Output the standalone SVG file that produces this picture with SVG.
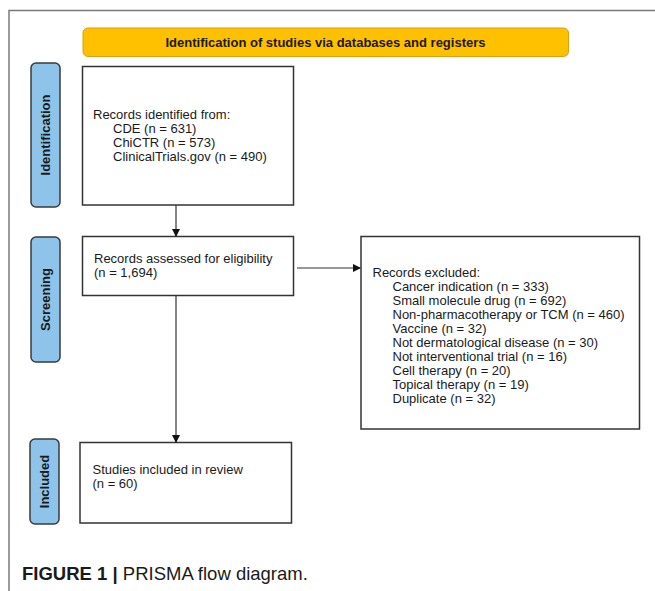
<svg xmlns="http://www.w3.org/2000/svg" width="655" height="591" viewBox="0 0 655 591">
<style>
.t{font-family:"Liberation Sans",Arial,sans-serif;font-size:13px;fill:#1a1a1a}
.b{font-family:"Liberation Sans",Arial,sans-serif;font-size:13px;font-weight:bold;fill:#1a1a1a}
.box{fill:#fff;stroke:#333;stroke-width:1.5}
.lab{fill:#8ec4ea;stroke:#3a3a3a;stroke-width:1.5}
.con{stroke:#333;stroke-width:1.2;fill:none}
</style>
<defs>
<marker id="ah" markerWidth="8" markerHeight="8" refX="7" refY="4" orient="auto" markerUnits="userSpaceOnUse">
<path d="M0,0 L8,4 L0,8 Z" fill="#111"/>
</marker>
</defs>
<rect width="655" height="591" fill="#fff"/>
<path d="M9,591 V10.5 H655" fill="none" stroke="#7a7a7a" stroke-width="1.5"/>
<g id="banner">
<rect x="83" y="28" width="485.5" height="28.5" rx="5" fill="#ffc000" stroke="#d9a011" stroke-width="1"/>
<text class="b" x="325.5" y="46.5" text-anchor="middle">Identification of studies via databases and registers</text>
</g>
<g id="label-identification">
<rect class="lab" x="31" y="63" width="29" height="144" rx="5"/>
<text class="b" transform="translate(50,135) rotate(-90)" text-anchor="middle">Identification</text>
</g>
<g id="label-screening">
<rect class="lab" x="31" y="237" width="29" height="125" rx="5"/>
<text class="b" transform="translate(50,299.5) rotate(-90)" text-anchor="middle">Screening</text>
</g>
<g id="label-included">
<rect class="lab" x="30" y="439" width="29" height="85" rx="5"/>
<text class="b" transform="translate(49,481.5) rotate(-90)" text-anchor="middle">Included</text>
</g>
<g id="node-identified">
<rect class="box" x="82.5" y="66.5" width="211" height="138.5"/>
<text class="t" x="93" y="119">Records identified from:</text>
<text class="t" x="113" y="133">CDE (n = 631)</text>
<text class="t" x="113" y="147">ChiCTR (n = 573)</text>
<text class="t" x="113" y="161">ClinicalTrials.gov (n = 490)</text>
</g>
<g id="node-screened">
<rect class="box" x="82.5" y="236.5" width="211" height="59"/>
<text class="t" x="94" y="263">Records assessed for eligibility</text>
<text class="t" x="94" y="277">(n = 1,694)</text>
</g>
<g id="node-excluded">
<rect class="box" x="361" y="236.5" width="278.5" height="192.5"/>
<text class="t" x="372.5" y="277">Records excluded:</text>
<text class="t" x="392.5" y="291">Cancer indication (n = 333)</text>
<text class="t" x="392.5" y="305">Small molecule drug (n = 692)</text>
<text class="t" x="392.5" y="319">Non-pharmacotherapy or TCM (n = 460)</text>
<text class="t" x="392.5" y="333">Vaccine (n = 32)</text>
<text class="t" x="392.5" y="347">Not dermatological disease (n = 30)</text>
<text class="t" x="392.5" y="361">Not interventional trial (n = 16)</text>
<text class="t" x="392.5" y="375">Cell therapy (n = 20)</text>
<text class="t" x="392.5" y="389">Topical therapy (n = 19)</text>
<text class="t" x="392.5" y="403">Duplicate (n = 32)</text>
</g>
<g id="node-included">
<rect class="box" x="80" y="442.5" width="211.5" height="80.5"/>
<text class="t" x="92.5" y="474">Studies included in review</text>
<text class="t" x="92.5" y="488">(n = 60)</text>
</g>
<g id="connectors">
<line class="con" x1="176" y1="205" x2="176" y2="236" marker-end="url(#ah)"/>
<line class="con" x1="176" y1="295.5" x2="176" y2="442" marker-end="url(#ah)"/>
<line class="con" x1="297" y1="268" x2="360" y2="268" marker-end="url(#ah)"/>
</g>
<text x="22" y="580" font-family="'Liberation Sans',Arial,sans-serif" font-size="18.5" fill="#1a1a1a"><tspan font-weight="bold">FIGURE 1</tspan><tspan font-weight="bold"> | </tspan>PRISMA flow diagram.</text>
</svg>
